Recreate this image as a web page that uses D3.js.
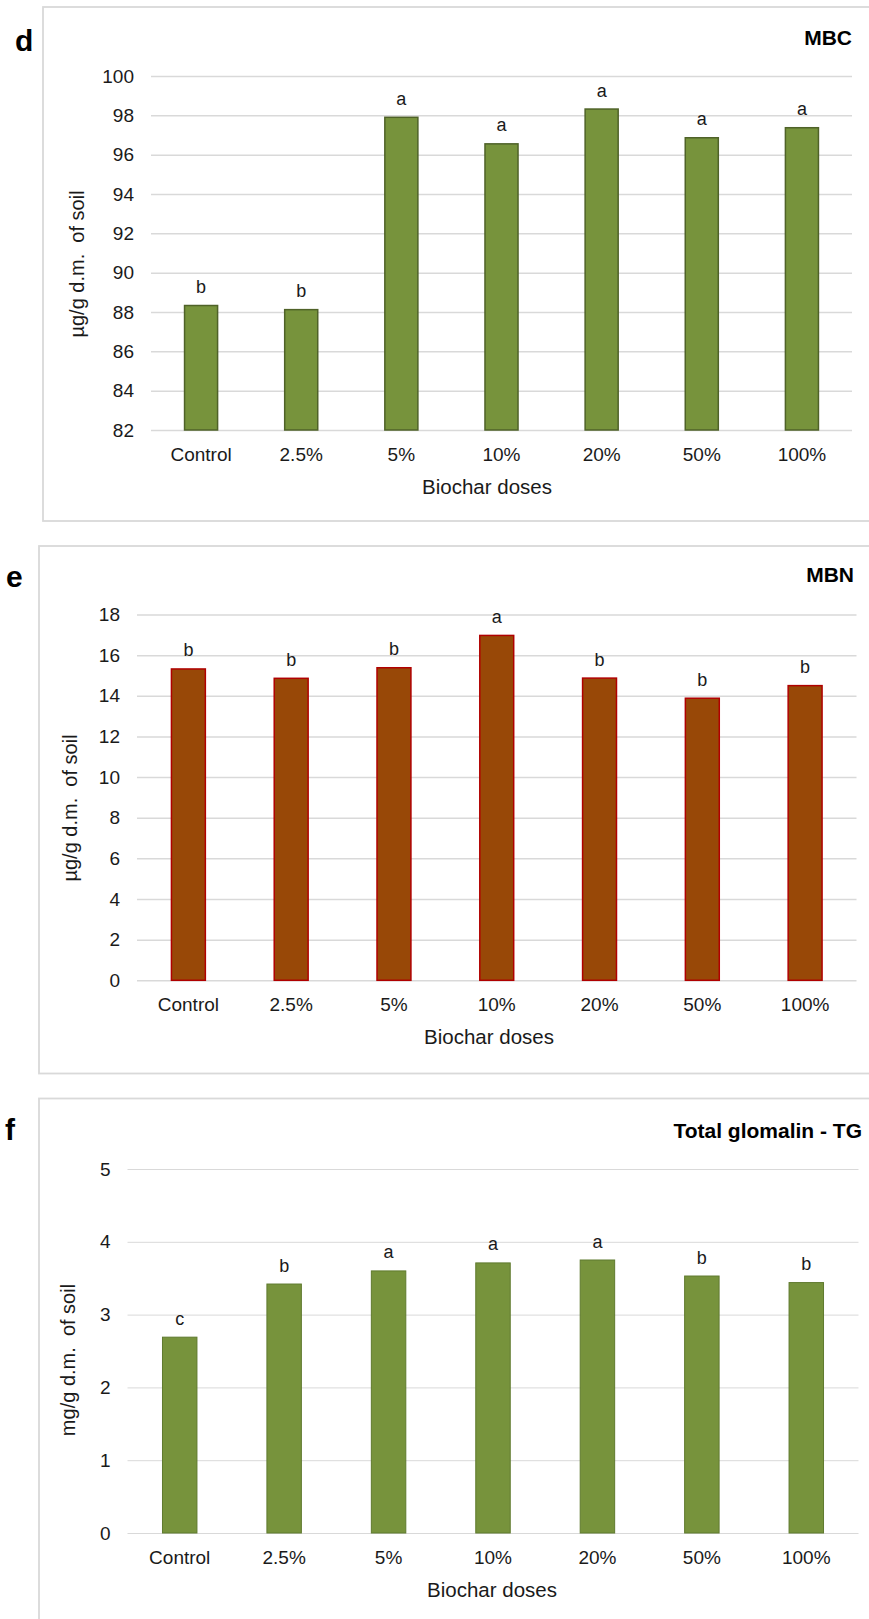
<!DOCTYPE html>
<html>
<head>
<meta charset="utf-8">
<script src="https://cdn.jsdelivr.net/npm/d3@7"></script>
<style>
    body { margin: 0; background: #fff; }
    text { font-family: "Liberation Sans", Arial, sans-serif; }
</style>
</head>
<body>
<div class="chart"></div>
<script>
const width = 869;
const height = 1619;

// data
const categories = ["Control", "2.5%", "5%", "10%", "20%", "50%", "100%"];

const mbcValues = [88.33, 88.12, 97.9, 96.55, 98.32, 96.86, 97.37];
const mbcLetters = ["b", "b", "a", "a", "a", "a", "a"];
const mbcTicks = [82, 84, 86, 88, 90, 92, 94, 96, 98, 100];

const mbnValues = [15.32, 14.86, 15.38, 16.97, 14.87, 13.88, 14.5];
const mbnLetters = ["b", "b", "b", "a", "b", "b", "b"];
const mbnTicks = [0, 2, 4, 6, 8, 10, 12, 14, 16, 18];

const tgValues = [2.69, 3.42, 3.6, 3.71, 3.75, 3.53, 3.44];
const tgLetters = ["c", "b", "a", "a", "a", "b", "b"];
const tgTicks = [0, 1, 2, 3, 4, 5];

let svg = d3.select(".chart")
    .append("svg")
    .attr("width", width)
    .attr("height", height)

const panels = [
    {
        tag: "d", title: "MBC", yTitle: "µg/g d.m.  of soil",
        values: mbcValues, letters: mbcLetters, ticks: mbcTicks, domain: [82, 100],
        frame: { x: 43, y: 7, bottom: 521 },
        left: 151, right: 852, top: 76, bottom: 430,
        tagPos: [15, 51], titlePos: [852, 45], yTitlePos: [84, 264], xTitleX: 487,
        fill: "#77933c", stroke: "#4f6228", strokeWidth: 1.5, gridWidth: 1.5
    },
    {
        tag: "e", title: "MBN", yTitle: "µg/g d.m.  of soil",
        values: mbnValues, letters: mbnLetters, ticks: mbnTicks, domain: [0, 18],
        frame: { x: 39, y: 546, bottom: 1073.5 },
        left: 137, right: 856.5, top: 614.5, bottom: 980.3,
        tagPos: [6, 587], titlePos: [854, 582], yTitlePos: [77, 808], xTitleX: 489,
        fill: "#984807", stroke: "#b00000", strokeWidth: 1.5, gridWidth: 1.5
    },
    {
        tag: "f", title: "Total glomalin - TG", yTitle: "mg/g d.m.  of soil",
        values: tgValues, letters: tgLetters, ticks: tgTicks, domain: [0, 5],
        frame: { x: 39, y: 1098.5, bottom: 1640 },
        left: 127.5, right: 858.5, top: 1169, bottom: 1533,
        tagPos: [5, 1140], titlePos: [862, 1138], yTitlePos: [75, 1360], xTitleX: 492,
        fill: "#77933c", stroke: "#5f7a2e", strokeWidth: 1, gridWidth: 1
    }
]

panels.forEach(p => drawPanel(p))

function drawPanel(p) {
    const g = svg.append("g")

    // frame (right side runs off the picture)
    g.append("rect")
        .attr("x", p.frame.x)
        .attr("y", p.frame.y)
        .attr("width", width + 20 - p.frame.x)
        .attr("height", p.frame.bottom - p.frame.y)
        .attr("fill", "none")
        .attr("stroke", "#d9d9d9")
        .attr("stroke-width", 1.8)

    const x = d3.scaleBand()
        .domain(categories)
        .range([p.left, p.right])
        .paddingInner(0.67)
        .paddingOuter(0.335)

    const y = d3.scaleLinear()
        .domain(p.domain)
        .range([p.bottom, p.top])

    // y axis + gridlines
    g.append("g")
        .attr("transform", `translate(${p.left}, 0)`)
        .call(d3.axisLeft(y)
            .tickValues(p.ticks)
            .tickFormat(d3.format("d"))
            .tickSize(-(p.right - p.left))
            .tickPadding(17))
        .call(a => a.select(".domain").remove())
        .call(a => a.selectAll(".tick line")
            .attr("stroke", "#d9d9d9")
            .attr("stroke-width", p.gridWidth))
        .call(a => a.selectAll(".tick text")
            .attr("fill", "#1a1a1a")
            .attr("font-size", "19")
            .attr("font-family", "Liberation Sans, Arial, sans-serif"))

    // x axis labels
    g.append("g")
        .attr("transform", `translate(0, ${p.bottom})`)
        .call(d3.axisBottom(x).tickSize(0).tickPadding(17.5))
        .call(a => a.select(".domain").remove())
        .call(a => a.selectAll(".tick text")
            .attr("fill", "#1a1a1a")
            .attr("font-size", "19")
            .attr("font-family", "Liberation Sans, Arial, sans-serif"))

    const rows = categories.map((c, i) => ({ cat: c, value: p.values[i], letter: p.letters[i] }))

    g.append("g")
        .selectAll("rect")
        .data(rows)
        .join("rect")
        .attr("x", d => x(d.cat))
        .attr("y", d => y(d.value))
        .attr("width", x.bandwidth())
        .attr("height", d => y(p.domain[0]) - y(d.value))
        .attr("fill", p.fill)
        .attr("stroke", p.stroke)
        .attr("stroke-width", p.strokeWidth)

    g.append("g")
        .selectAll("text")
        .data(rows)
        .join("text")
        .attr("x", d => x(d.cat) + x.bandwidth() / 2)
        .attr("y", d => y(d.value) - 12.5)
        .attr("text-anchor", "middle")
        .attr("font-size", "18")
        .attr("fill", "#1a1a1a")
        .text(d => d.letter)

    // panel letter
    g.append("text")
        .attr("x", p.tagPos[0])
        .attr("y", p.tagPos[1])
        .attr("font-size", "30")
        .attr("font-weight", "bold")
        .attr("fill", "#000")
        .text(p.tag)

    g.append("text")
        .attr("x", p.titlePos[0])
        .attr("y", p.titlePos[1])
        .attr("text-anchor", "end")
        .attr("font-size", "21")
        .attr("font-weight", "bold")
        .attr("fill", "#000")
        .text(p.title)

    g.append("text")
        .attr("transform", `translate(${p.yTitlePos[0]}, ${p.yTitlePos[1]}) rotate(-90)`)
        .attr("text-anchor", "middle")
        .attr("font-size", "20")
        .attr("fill", "#1a1a1a")
        .style("white-space", "pre")
        .text(p.yTitle)

    g.append("text")
        .attr("x", p.xTitleX)
        .attr("y", p.bottom + 64)
        .attr("text-anchor", "middle")
        .attr("font-size", "20.5")
        .attr("fill", "#1a1a1a")
        .text("Biochar doses")
}
</script>
</body>
</html>
